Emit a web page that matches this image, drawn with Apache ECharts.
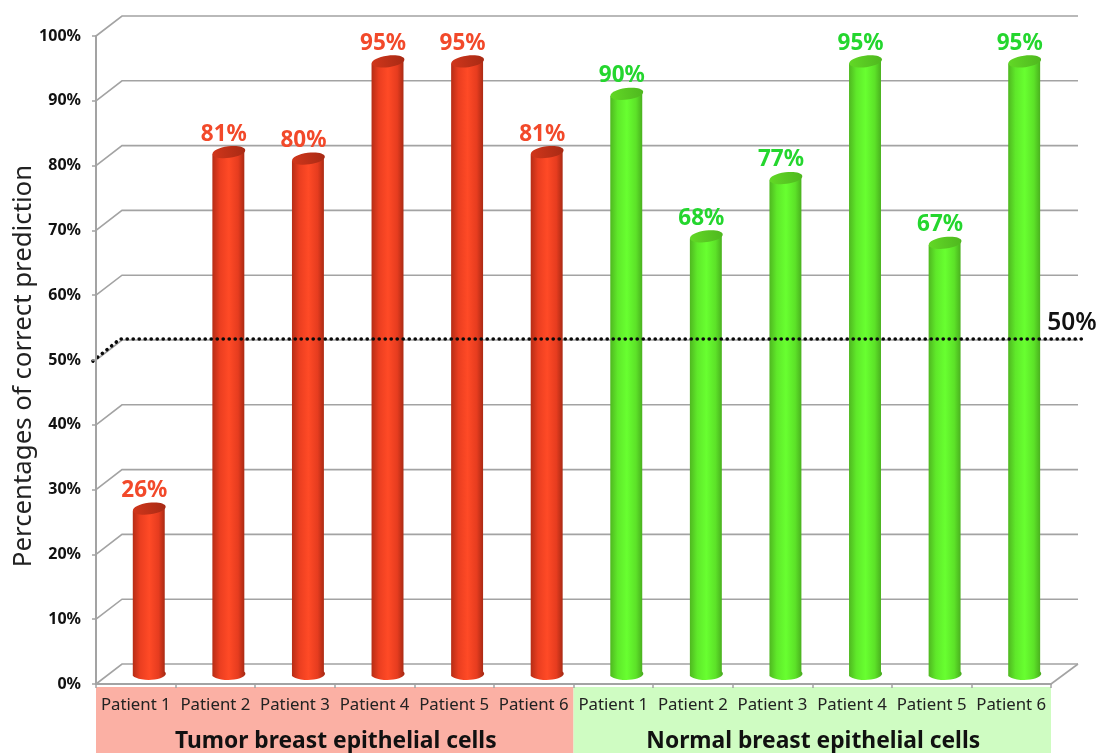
<!DOCTYPE html>
<html>
<head>
<meta charset="utf-8">
<style>html,body{margin:0;padding:0;background:#fff}#chart{width:1098px;height:753px}</style>
<script src="https://cdn.jsdelivr.net/npm/echarts@6/dist/echarts.min.js"></script>
</head>
<body>
<div id="chart"></div>
<script>
// Prediction accuracy per patient, drawn as pseudo-3D cylinders on a box-shaped plot.
const patients = ['Patient 1','Patient 2','Patient 3','Patient 4','Patient 5','Patient 6',
                  'Patient 1','Patient 2','Patient 3','Patient 4','Patient 5','Patient 6'];
const tumorValues = [26, 81, 80, 95, 95, 81];
const normalValues = [90, 68, 77, 95, 67, 95];
const gridValues = [0, 10, 20, 30, 40, 50, 60, 70, 80, 90, 100];
const thresholdValue = 50;
const groupNames = ['Tumor breast epithelial cells', 'Normal breast epithelial cells'];
const axisTitle = 'Percentages of correct prediction';

const FONT = '"Noto Sans", sans-serif';
const DEPTH_X = 26, DEPTH_Y = -20;        // shift from the front plane to the back wall
const BAR_DX = 13.5, BAR_DY = -7;         // cylinders stand in the middle of the box floor
const R = 16.5, RY = 5.8, TILT = 0.13;    // cylinder radius, ellipse squash, perspective tilt
const GRAY = '#a3a3a3';

const palette = {
  tumor: {
    label: '#f2492a',
    top: [[0,'#d0361b'],[1,'#a82a14']],
    body: [[0,'#b52d16'],[0.22,'#ea3e20'],[0.5,'#ff4a26'],[0.78,'#e63c1f'],[1,'#a02712']]
  },
  normal: {
    label: '#24d62e',
    top: [[0,'#62d826'],[1,'#4fb81f']],
    body: [[0,'#4fb820'],[0.22,'#5fe82a'],[0.5,'#68ff30'],[0.78,'#5ce228'],[1,'#47a81d']]
  }
};

const gradient = stops => ({
  type: 'linear', x: 0, y: 0, x2: 1, y2: 0,
  colorStops: stops.map(s => ({ offset: s[0], color: s[1] }))
});

// One row per bar: [category index, value]
const barRows = tumorValues.map((v, i) => [i, v])
  .concat(normalValues.map((v, i) => [i + 6, v]));

function renderCylinder(params, api) {
  const idx = api.value(0), v = api.value(1);
  const colors = params.dataIndex < tumorValues.length ? palette.tumor : palette.normal;
  const top = api.coord([idx, v]);
  const base = api.coord([idx, 0]);
  const x = top[0] + BAR_DX;
  const yT = top[1] + BAR_DY;
  const yB = base[1] + BAR_DY - 5;
  const lift = R * TILT;
  const body = `M ${x - R} ${yT + lift} L ${x - R} ${yB + lift} `
    + `A ${R} ${RY} 0 0 0 ${x + R} ${yB - lift} L ${x + R} ${yT - lift} Z`;
  return {
    type: 'group',
    children: [
      { type: 'path', shape: { pathData: body, layout: 'cover',
          x: x - R, y: yT - lift, width: 2 * R, height: yB - yT + 2 * lift + RY },
        style: { fill: gradient(colors.body) } },
      { type: 'ellipse', x: x, y: yT, originX: 0, originY: 0, rotation: TILT,
        shape: { cx: 0, cy: 0, rx: R, ry: RY },
        style: { fill: gradient(colors.top) } },
      { type: 'text', x: x - 5, y: yT - 18,
        style: { text: v + '%', fill: colors.label, font: 'bold 22.5px ' + FONT,
                 align: 'center', verticalAlign: 'middle' } }
    ]
  };
}

// Horizontal rules: slanted across the left side wall, then straight along the back wall.
function renderWallLine(params, api) {
  const v = api.value(0);
  const front = api.coord([0, v]);
  const rect = params.coordSys;
  const x0 = rect.x, x1 = rect.x + rect.width;
  const y = front[1];
  const children = [{
    type: 'polyline',
    shape: { points: [[x0, y], [x0 + DEPTH_X, y + DEPTH_Y], [x1 + DEPTH_X + 1, y + DEPTH_Y]] },
    style: { stroke: GRAY, lineWidth: 1.6, fill: null }
  }];
  if (v === 0) {
    children.push({
      type: 'line',
      shape: { x1: x1, y1: y, x2: x1 + DEPTH_X + 1, y2: y + DEPTH_Y },
      style: { stroke: GRAY, lineWidth: 1.6 }
    });
  }
  return { type: 'group', children };
}

// Dotted 50% reference line with its label at the right-hand end.
function renderThreshold(params, api) {
  const v = api.value(0);
  const y = api.coord([0, v])[1];
  const rect = params.coordSys;
  const x0 = rect.x, x1 = rect.x + rect.width;
  return {
    type: 'group',
    children: [
      { type: 'polyline',
        shape: { points: [[x0 - 3, y + 1], [x0 + DEPTH_X - 2, y + DEPTH_Y - 1], [x1 + DEPTH_X + 6, y + DEPTH_Y - 1]] },
        style: { stroke: '#0a0a0a', lineWidth: 3.6, fill: null, lineCap: 'round', lineDash: [0.1, 5.9] } },
      { type: 'text', x: x1 + 21, y: y + DEPTH_Y - 17,
        style: { text: v + '%', fill: '#111', font: '600 24.5px ' + FONT,
                 align: 'center', verticalAlign: 'middle' } }
    ]
  };
}

// Coloured bands under the category axis, one per cell type.
function renderBand(params, api) {
  const from = api.value(0), to = api.value(1);
  const half = api.size([1, 0])[0] / 2;
  const a = api.coord([from, 0]), b = api.coord([to, 0]);
  const left = a[0] - half, right = b[0] + half;
  const top = a[1] + 3;
  const first = params.dataIndex === 0;
  return {
    type: 'group',
    children: [
      { type: 'rect', shape: { x: left, y: top, width: right - left, height: 753 - top },
        style: { fill: first ? '#fbb0a4' : '#cffcc2' } },
      { type: 'text', x: (left + right) / 2 + 1, y: top + 55,
        style: { text: groupNames[params.dataIndex], fill: '#111', font: 'bold 22.8px ' + FONT,
                 align: 'center', verticalAlign: 'middle' } }
    ]
  };
}

const chart = echarts.init(document.getElementById('chart'), null, { renderer: 'canvas' });
chart.setOption({
  animation: false,
  backgroundColor: '#fff',
  grid: { left: 96, right: 47, top: 36, bottom: 69, outerBoundsMode: 'none' },
  xAxis: {
    type: 'category',
    z: 5,
    data: patients,
    axisLine: { lineStyle: { color: GRAY, width: 2 } },
    axisTick: { show: true, length: 4, alignWithLabel: false, lineStyle: { color: GRAY, width: 1.5 } },
    axisLabel: { interval: 0, color: '#222', fontFamily: FONT, fontSize: 16.8, margin: 13 }
  },
  yAxis: {
    type: 'value', min: 0, max: 100, interval: 10,
    z: 5,
    name: axisTitle,
    nameLocation: 'middle',
    nameGap: 59,
    nameMoveOverlap: false,
    nameTextStyle: { color: '#222', fontFamily: FONT, fontSize: 25.8, padding: [0, 12, 0, 0] },
    axisLine: { show: true, lineStyle: { color: GRAY, width: 2 } },
    axisTick: { show: true, length: 4, lineStyle: { color: GRAY, width: 1.5 } },
    axisLabel: { color: '#111', fontFamily: FONT, fontSize: 16, fontWeight: 'bold', margin: 15, formatter: '{value}%' },
    splitLine: { show: false }
  },
  series: [
    { type: 'custom', name: 'bands', z: 1, silent: true, renderItem: renderBand,
      encode: { x: 0 }, data: [[0, 5], [6, 11]] },
    { type: 'custom', name: 'walls', z: 2, silent: true, renderItem: renderWallLine,
      encode: { y: 0 }, data: gridValues.map(v => [v]) },
    { type: 'custom', name: 'accuracy', z: 3, renderItem: renderCylinder,
      encode: { x: 0, y: 1 }, data: barRows },
    { type: 'custom', name: 'threshold', z: 4, silent: true, renderItem: renderThreshold,
      encode: { y: 0 }, data: [[thresholdValue]] }
  ]
});
</script>
</body>
</html>
